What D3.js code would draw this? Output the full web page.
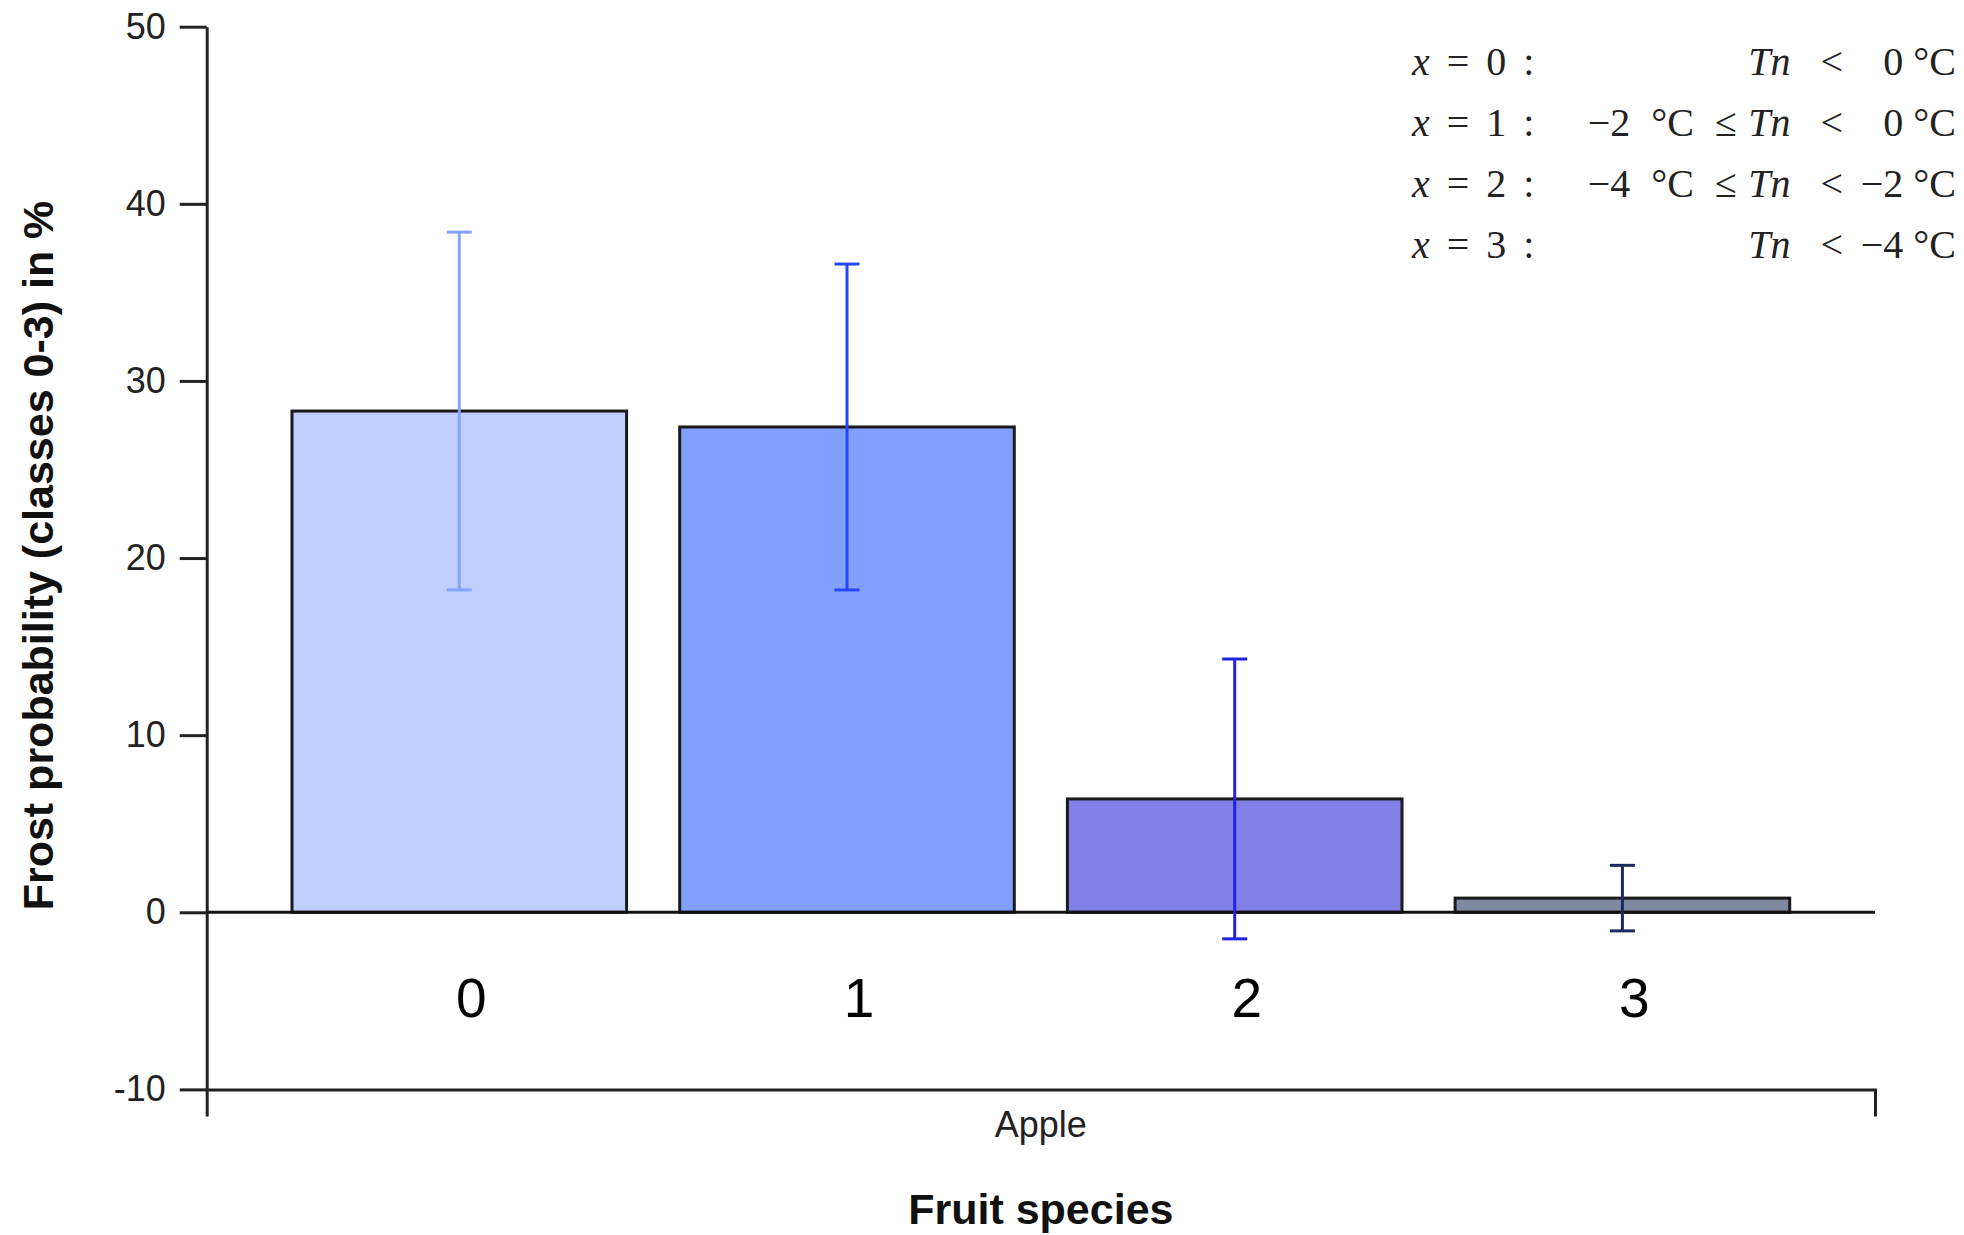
<!DOCTYPE html>
<html>
<head>
<meta charset="utf-8">
<script src="https://cdn.jsdelivr.net/npm/d3@7"></script>
<style>
  body { margin: 0; background: #fff; }
  svg { display: block; }
</style>
</head>
<body>
<svg class="frost" width="1964" height="1235"></svg>
<script>
// the data
var classes = ["0", "1", "2", "3"];
var frostMean = [28.3, 27.4, 6.4, 0.8];
var frostErr = [10.1, 9.2, 7.9, 1.85];
var yTicks = [-10, 0, 10, 20, 30, 40, 50];
var species = ["Apple"];

var fillColours = ["#bfcfff", "#809fff", "#8080e6", "#7f89a2"];
var errColours = ["#86a4ff", "#2646ff", "#2222e0", "#1c2a5c"];

// legend text (LaTeX-like conditions)
var legendLower = ["", "\u22122 \u00b0C \u2264", "\u22124 \u00b0C \u2264", ""];
var legendUpper = ["0 \u00b0C", "0 \u00b0C", "\u22122 \u00b0C", "\u22124 \u00b0C"];

var svg = d3.select("svg.frost"),
    width = 1964,
    height = 1235;

var plot = { left: 206.7, right: 1875, top: 26.7, bottom: 1089.4 };

var y = d3.scaleLinear()
    .domain([-10, 50])
    .range([plot.bottom, plot.top]);

var x = d3.scaleBand()
    .domain(classes)
    .range([plot.left, plot.right])
    .paddingInner(0.137)
    .paddingOuter(0.22);

var xSpecies = d3.scaleBand()
    .domain(species)
    .range([plot.left, plot.right]);

var data = classes.map((c, i) => ({ cls: c, mean: frostMean[i], err: frostErr[i], i: i }));

//////////// AXES ////////////

var yAxis = svg.append("g")
    .attr("transform", `translate(${plot.left},0)`)
    .call(d3.axisLeft(y)
        .tickValues(yTicks)
        .tickFormat((d) => String(d))   // plain hyphen for "-10"
        .tickSize(27).tickSizeOuter(0).tickPadding(14));
yAxis.selectAll("path, line").attr("stroke", "#222").attr("stroke-width", 3);
yAxis.selectAll("text")
    .attr("fill", "#222")
    .style("font-family", "'Liberation Sans', Arial, sans-serif")
    .style("font-size", "36px");

var xAxis = svg.append("g")
    .attr("transform", `translate(0,${y(-10)})`)
    .call(d3.axisBottom(xSpecies).tickSizeInner(0).tickSizeOuter(27).tickPadding(22));
xAxis.select("path").attr("stroke", "#222").attr("stroke-width", 3);
xAxis.selectAll("text")
    .attr("fill", "#222")
    .style("font-family", "'Liberation Sans', Arial, sans-serif")
    .style("font-size", "36px");

//////////// BARS ////////////

svg.append("g")
    .selectAll("rect")
    .data(data)
    .enter().append("rect")
    .attr("x", (d) => x(d.cls))
    .attr("y", (d) => y(d.mean))
    .attr("width", x.bandwidth())
    .attr("height", (d) => y(0) - y(d.mean))
    .attr("fill", (d) => fillColours[d.i])
    .attr("stroke", "#1a1a1a")
    .attr("stroke-width", 3);

// zero line
svg.append("line")
    .attr("x1", plot.left)
    .attr("x2", plot.right)
    .attr("y1", y(0))
    .attr("y2", y(0))
    .attr("stroke", "#111")
    .attr("stroke-width", 3);

// error bars
var cap = 12.5;
var err = svg.append("g")
    .selectAll("g")
    .data(data)
    .enter().append("g")
    .attr("stroke", (d) => errColours[d.i])
    .attr("stroke-width", 3);
err.append("line")
    .attr("x1", (d) => x(d.cls) + x.bandwidth() / 2)
    .attr("x2", (d) => x(d.cls) + x.bandwidth() / 2)
    .attr("y1", (d) => y(d.mean + d.err))
    .attr("y2", (d) => y(d.mean - d.err));
err.append("line")
    .attr("x1", (d) => x(d.cls) + x.bandwidth() / 2 - cap)
    .attr("x2", (d) => x(d.cls) + x.bandwidth() / 2 + cap)
    .attr("y1", (d) => y(d.mean + d.err))
    .attr("y2", (d) => y(d.mean + d.err));
err.append("line")
    .attr("x1", (d) => x(d.cls) + x.bandwidth() / 2 - cap)
    .attr("x2", (d) => x(d.cls) + x.bandwidth() / 2 + cap)
    .attr("y1", (d) => y(d.mean - d.err))
    .attr("y2", (d) => y(d.mean - d.err));

// class labels under the bars
svg.append("g")
    .selectAll("text")
    .data(data)
    .enter().append("text")
    .attr("x", (d) => x(d.cls) + x.bandwidth() / 2 + 12)
    .attr("y", 1017)
    .attr("text-anchor", "middle")
    .style("font-family", "'Liberation Sans', Arial, sans-serif")
    .style("font-size", "55px")
    .attr("fill", "#000")
    .text((d) => d.cls);

//////////// TITLES ////////////

svg.append("text")
    .attr("transform", `translate(53,${(plot.top + y(0)) / 2 + 86}) rotate(-90)`)
    .attr("text-anchor", "middle")
    .style("font-family", "'Liberation Sans', Arial, sans-serif")
    .style("font-size", "43px")
    .style("font-weight", "bold")
    .attr("fill", "#111")
    .text("Frost probability (classes 0-3) in %");

svg.append("text")
    .attr("x", (plot.left + plot.right) / 2)
    .attr("y", 1224)
    .attr("text-anchor", "middle")
    .style("font-family", "'Liberation Sans', Arial, sans-serif")
    .style("font-size", "43px")
    .style("font-weight", "bold")
    .attr("fill", "#111")
    .text("Fruit species");

//////////// LEGEND ////////////

var legend = svg.append("g")
    .style("font-family", "'Liberation Serif', 'DejaVu Serif', serif")
    .style("font-size", "40px")
    .attr("fill", "#222")
    .selectAll("g")
    .data(classes)
    .enter().append("g")
    .attr("transform", (d, i) => `translate(0,${75 + i * 61})`);

var lab = legend.append("text")
    .attr("x", 1412)
    .attr("word-spacing", "7px");
lab.append("tspan").style("font-style", "italic").text("x");
lab.append("tspan").text((d) => " = " + d + " :");

legend.append("text")
    .attr("x", 1737)
    .attr("text-anchor", "end")
    .attr("word-spacing", "11px")
    .text((d, i) => legendLower[i]);

var rel = legend.append("text")
    .attr("x", 1843)
    .attr("text-anchor", "end")
    .attr("word-spacing", "20px");
rel.append("tspan").style("font-style", "italic").text("Tn");
rel.append("tspan").text(" <");

legend.append("text")
    .attr("x", 1956)
    .attr("text-anchor", "end")
    .text((d, i) => legendUpper[i]);
</script>
</body>
</html>
